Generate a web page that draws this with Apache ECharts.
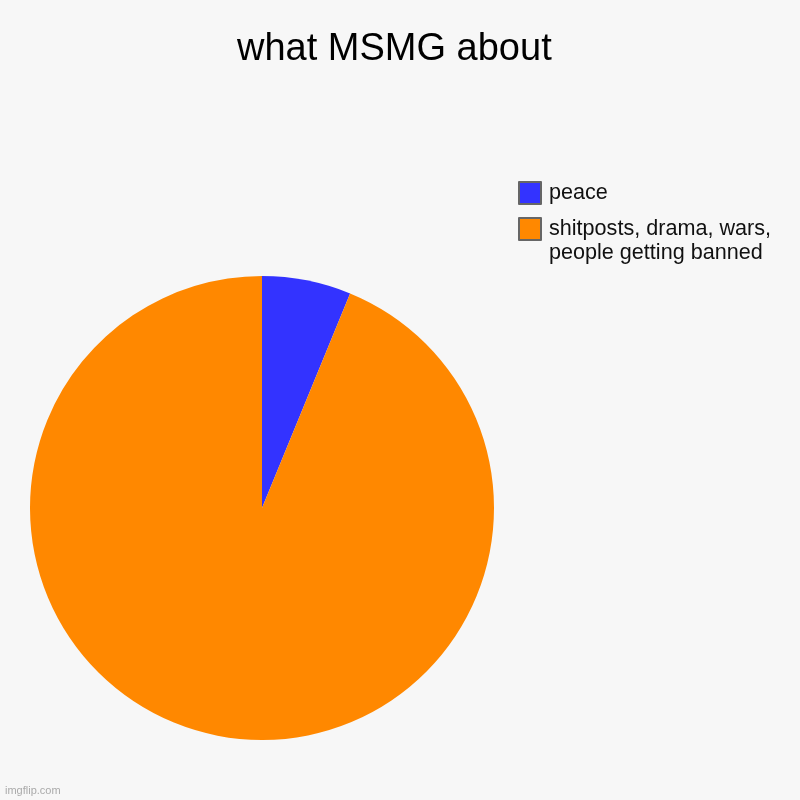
<!DOCTYPE html>
<html>
<head>
<meta charset="utf-8">
<title>what MSMG about</title>
<script src="https://cdn.jsdelivr.net/npm/echarts@6/dist/echarts.min.js"></script>
<style>
	*{
		margin: 0;
		padding: 0;
	}
	body{
		background: #f7f7f7;
	}
	#chart{
		width: 800px;
		height: 800px;
	}
</style>
</head>
<body>
	<div id="chart"></div>
<script>
	// data
	var categories = ['peace', 'shitposts, drama, wars,\npeople getting banned'];
	var values = [6.2, 93.8];
	var colors = ['#3333ff', '#ff8800'];

	var pieData = [];
	for (var i = 0; i < categories.length; i++) {
		pieData.push({value: values[i], name: categories[i], itemStyle: {color: colors[i]}});
	}

	var myChart = echarts.init(document.getElementById('chart'));

	// square box, the wider item width only pushes the text a bit right
	function makeLegend(name, top) {
		return {
			orient: 'vertical',
			left: 518,
			top: top,
			padding: 0,
			icon: 'path://M0,0h22v22h-22z',
			itemWidth: 28,
			itemHeight: 22,
			itemStyle: {borderColor: '#666', borderWidth: 2},
			textStyle: {
				color: '#111',
				fontSize: 21.6,
				fontFamily: 'Liberation Sans, Arial, sans-serif',
				lineHeight: 24
			},
			// blank first line keeps the first text line level with the box
			formatter: function (n) {
				return n.indexOf('\n') >= 0 ? '\n' + n : n;
			},
			data: [name]
		};
	}

	var option = {
		backgroundColor: '#f7f7f7',
		animation: false,
		title: {
			text: 'what MSMG about',
			left: 232,
			top: 26,
			textStyle: {
				color: '#000',
				fontSize: 38,
				fontWeight: 'normal',
				fontFamily: 'Liberation Sans, Arial, sans-serif'
			}
		},
		legend: [
			makeLegend(categories[0], 181),
			makeLegend(categories[1], 193)
		],
		graphic: [{
			type: 'text',
			left: 5,
			top: 785,
			style: {
				text: 'imgflip.com',
				fill: '#aaa',
				fontSize: 11,
				fontFamily: 'Liberation Sans, Arial, sans-serif'
			}
		}],
		series: [{
			type: 'pie',
			center: [262, 508],
			radius: 232,
			startAngle: 90,
			clockwise: true,
			label: {show: false},
			labelLine: {show: false},
			emphasis: {disabled: true},
			data: pieData
		}]
	};
	myChart.setOption(option);
</script>
</body>
</html>
